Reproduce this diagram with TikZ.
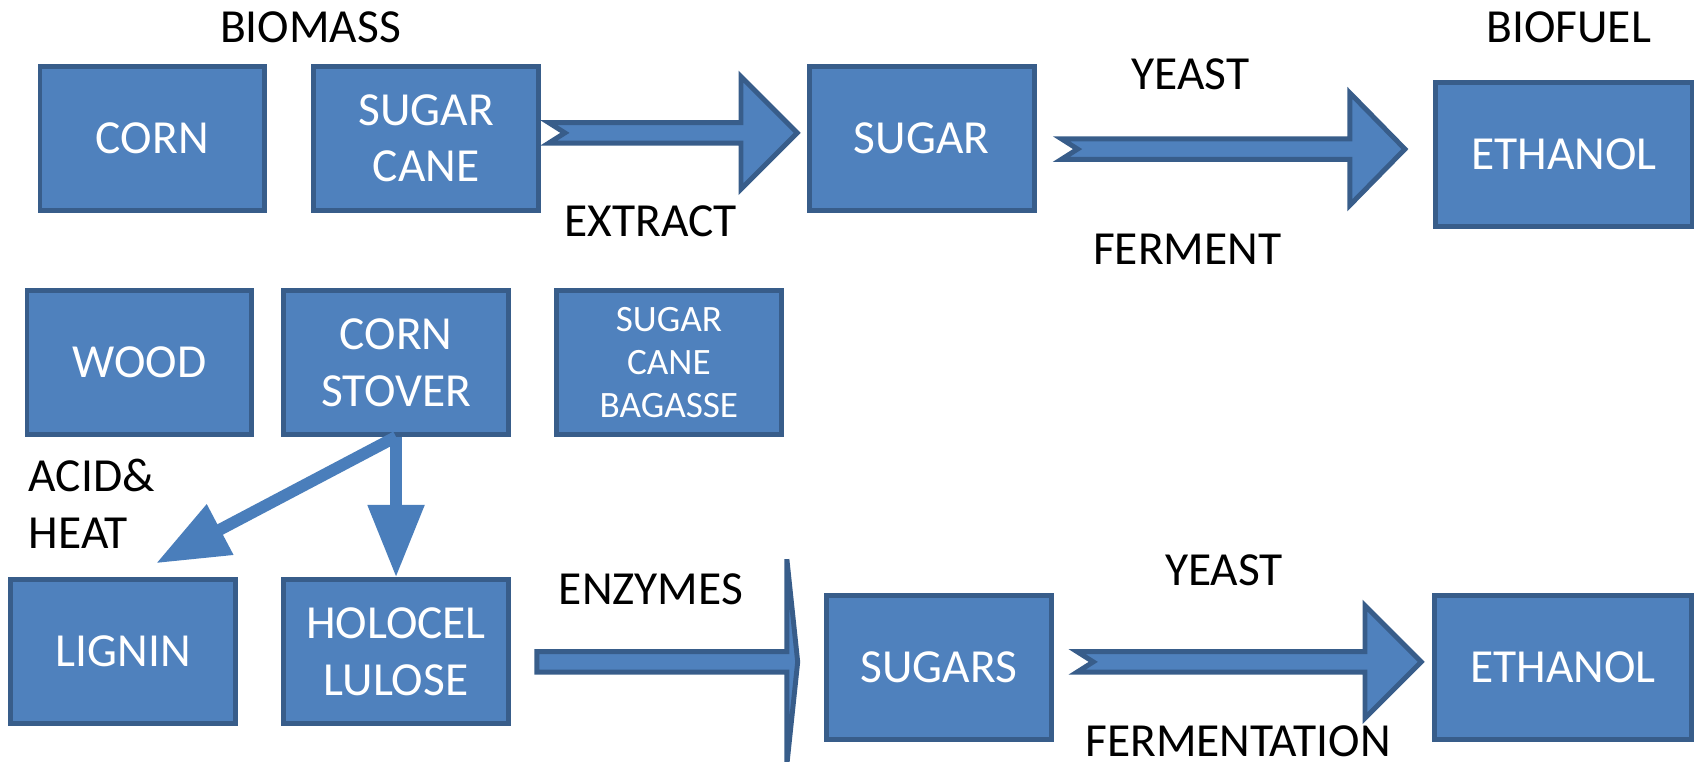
\documentclass[tikz,border=0pt]{standalone}
\usepackage{fontspec}
\setmainfont{Carlito}
\usepackage{tikz}
\usetikzlibrary{calc, positioning, arrows.meta}
\definecolor{boxfill}{RGB}{79,129,189}
\definecolor{boxline}{RGB}{56,93,138}
\definecolor{linkblue}{RGB}{74,126,187}
\newcommand{\bodyfont}{\fontsize{12.5}{15}\selectfont}
\newcommand{\smallbody}{\fontsize{9.8}{11.4}\selectfont}
\tikzstyle{stock}    = [rectangle, minimum width=2.08cm, minimum height=1.33cm, text centered, align=center, draw=boxline, fill=boxfill, line width=1.3pt, text=white, font=\bodyfont]
\tikzstyle{wide}     = [stock, minimum width=2.38cm]
\tikzstyle{txt}      = [inner sep=0pt, font=\bodyfont]
\tikzstyle{arrow}    = [line width=3.1pt, draw=linkblue, -{Triangle[length=0.67cm, width=0.5cm]}]
\tikzstyle{fatarrow} = [fill=boxfill, draw=boxline, line width=1.3pt]
% block arrow: tail, tip, head length, head half height, notch
\newcommand{\blockarrow}[5]{%
  \draw[fatarrow] let \p1=(#1), \p2=(#2) in
    (\x1,\y1+0.095cm) -- (\x2-#3,\y1+0.095cm) -- (\x2-#3,\y1+#4) -- (\x2,\y1)
    -- (\x2-#3,\y1-#4) -- (\x2-#3,\y1-0.095cm) -- (\x1,\y1-0.095cm) -- (\x1+#5,\y1) -- cycle;
}

\begin{document}
\begin{tikzpicture}
    \useasboundingbox (0,0) rectangle (15.68,-7.05);

    \node (corn)    [stock] at (1.41,-1.28)                       {CORN};
    \node (cane)    [stock, right=0.41cm of corn]                 {SUGAR\\CANE};
    \node (sugar)   [stock, right=2.46cm of cane]                 {SUGAR};
    \node (eth1)    [wide,  right=3.67cm of sugar, yshift=-0.15cm] {ETHANOL};
    \node (wood)    [stock, below=0.70cm of corn, xshift=-0.12cm] {WOOD};
    \node (stover)  [stock, right=0.25cm of wood]                 {CORN\\STOVER};
    \node (bagasse) [stock, right=0.40cm of stover, font=\smallbody] {SUGAR\\CANE\\BAGASSE};
    \node (holo)    [stock, below=1.30cm of stover]               {HOLOCEL\\LULOSE};
    \node (lignin)  [stock, left=0.40cm of holo]                  {LIGNIN};
    \node (sugars)  [stock, right=2.9cm of holo, yshift=-0.145cm] {SUGARS};
    \node (eth2)    [wide,  right=3.5cm of sugars]                {ETHANOL};

    \node (biomass)  [txt] at (2.875,-0.25) {BIOMASS};
    \node (biofuel)  [txt] at (14.52,-0.25) {BIOFUEL};
    \node (extract)  [txt] at (6.025,-2.045) {EXTRACT};
    \node (yeast1)   [txt] at (11.02,-0.69) {YEAST};
    \node (ferment)  [txt] at (10.99,-2.31) {FERMENT};
    \node (acid)     [txt, align=left, anchor=west] at (0.26,-4.66) {ACID\&\\HEAT};
    \node (enzymes)  [txt] at (6.025,-5.45) {ENZYMES};
    \node (yeast2)   [txt] at (11.33,-5.28) {YEAST};
    \node (fermtn)   [txt] at (11.46,-6.86) {FERMENTATION};

    \coordinate (exA) at ([xshift=0.07cm,yshift=0.05cm]cane.east);
    \coordinate (exB) at ([xshift=-0.09cm,yshift=0.05cm]sugar.west);
    \coordinate (feA) at ([xshift=0.23cm,yshift=-0.10cm]sugar.east);
    \coordinate (feB) at ([xshift=-0.26cm,yshift=0.05cm]eth1.west);
    \coordinate (enA) at ([xshift=0.24cm,yshift=-0.095cm]holo.east);
    \coordinate (enB) at ([xshift=-0.245cm,yshift=0.05cm]sugars.west);
    \coordinate (fmA) at ([xshift=0.215cm,yshift=0.05cm]sugars.east);
    \coordinate (fmB) at ([xshift=-0.10cm,yshift=0.05cm]eth2.west);
    \coordinate (acidtip) at ([xshift=0.305cm,yshift=0.13cm]lignin.north);

    \blockarrow{exA}{exB}{0.52cm}{0.52cm}{0.15cm}
    \blockarrow{feA}{feB}{0.51cm}{0.52cm}{0.15cm}
    \blockarrow{enA}{enB}{0.10cm}{0.95cm}{0cm}
    \blockarrow{fmA}{fmB}{0.52cm}{0.52cm}{0.15cm}

    \draw [arrow] (stover.south) -- (acidtip);
    \draw [arrow] (stover.south) -- (holo.north);
\end{tikzpicture}
\end{document}
